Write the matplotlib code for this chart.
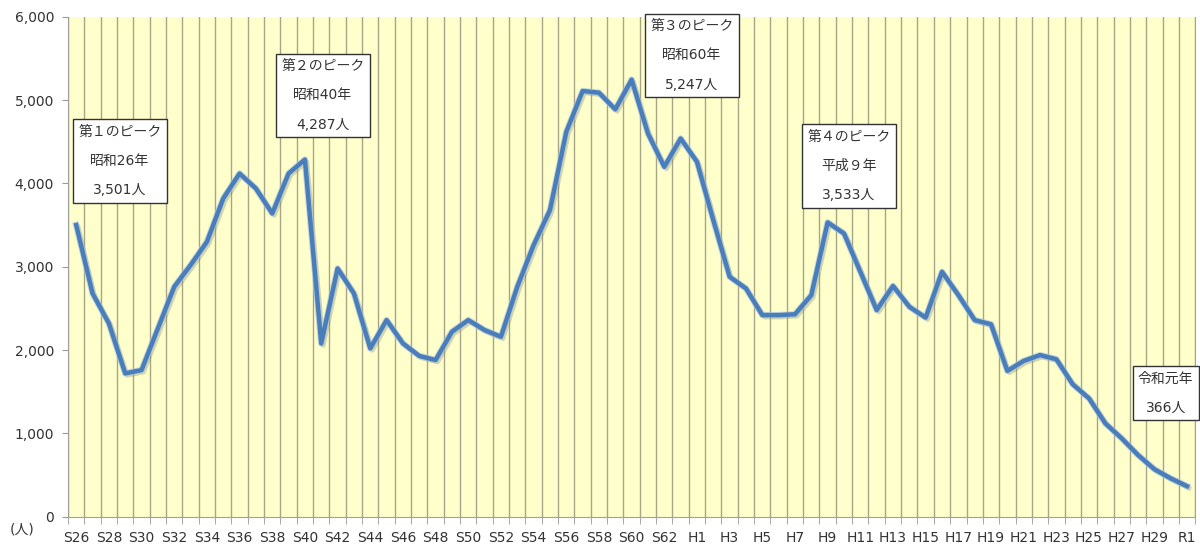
import matplotlib
matplotlib.use("Agg")
import matplotlib.pyplot as plt
import matplotlib.patheffects as pe
from matplotlib.ticker import FuncFormatter, FixedLocator
import numpy as np

plt.rcParams['font.family'] = ['DejaVu Sans', 'Noto Sans CJK JP']

# 年（昭和26年〜令和元年）
years = ([f"S{n}" for n in range(26, 64)]
         + [f"H{n}" for n in range(1, 31)]
         + ["R1"])

# 人数
counts = [3501, 2680, 2320, 1720, 1760, 2260, 2760, 3020, 3300, 3820,
          4120, 3940, 3640, 4120, 4287, 2080, 2980, 2680, 2020, 2360,
          2080, 1930, 1880, 2220, 2360, 2240, 2160, 2760, 3260, 3680,
          4620, 5110, 5090, 4890, 5247, 4600, 4200, 4540, 4260, 3560,
          2880, 2740, 2420, 2420, 2430, 2660, 3533, 3400, 2940, 2480,
          2770, 2520, 2390, 2940, 2660, 2360, 2310, 1750, 1870, 1940,
          1890, 1590, 1420, 1120, 940, 740, 570, 460, 366]

# ピークの注記
peak_labels = ["第１のピーク\n昭和26年\n3,501人",
               "第２のピーク\n昭和40年\n4,287人",
               "第３のピーク\n昭和60年\n5,247人",
               "第４のピーク\n平成９年\n3,533人",
               "令和元年\n366人"]
peak_pos = [(2.67, 4270), (15.1, 5060), (37.7, 5540), (47.3, 4210), (66.7, 1480)]

fig = plt.figure(figsize=(12, 5.45), dpi=100)
ax = fig.add_axes([0.0567, 0.052, 0.9393, 0.917])
ax.set_facecolor('#ffffcc')

x = np.arange(len(years))
ax.plot(x, counts, color='#4a7ebb', lw=3.2, solid_joinstyle='round', zorder=3,
        path_effects=[pe.SimpleLineShadow(offset=(1.5, -1.5), shadow_color='#8a8a60', alpha=0.35),
                      pe.Stroke(linewidth=4.6, foreground='#a9c4e4', alpha=0.7),
                      pe.Normal()])

ax.set_xlim(-0.5, len(years) - 0.5)
ax.set_ylim(0, 6000)

# 区切り線（各年の境界）
bounds = np.arange(-0.5, len(years), 1.0)
ax.xaxis.set_minor_locator(FixedLocator(bounds))
ax.xaxis.set_major_locator(FixedLocator(x[::2]))
ax.set_xticklabels(years[::2])
ax.grid(which='minor', axis='x', color='#a8a488', lw=1.0)
ax.tick_params(axis='x', which='major', length=0, labelsize=10, colors='#333333', pad=10)
ax.tick_params(axis='x', which='minor', length=5, color='#999999', direction='out')

ax.yaxis.set_major_locator(FixedLocator(range(0, 6001, 1000)))
ax.yaxis.set_major_formatter(FuncFormatter(lambda v, p: f"{int(v):,}"))
ax.tick_params(axis='y', length=4, color='#999999', labelsize=10, labelcolor='#333333', pad=6)

ax.spines['top'].set_visible(False)
ax.spines['left'].set_color('#a0a0a0')
ax.spines['bottom'].set_color('#a0a0a0')
ax.spines['right'].set_color('#a8a488')

for txt, (px, py) in zip(peak_labels, peak_pos):
    ax.text(px, py, txt, ha='center', va='center', fontsize=10, color='#333333',
            linespacing=2.4, zorder=5,
            bbox=dict(boxstyle='square,pad=0.38', fc='white', ec='#333333', lw=1.0))

fig.text(0.008, 0.028, "(人)", fontsize=10, color='#333333', va='center')

fig.savefig("out.png", dpi=100)
